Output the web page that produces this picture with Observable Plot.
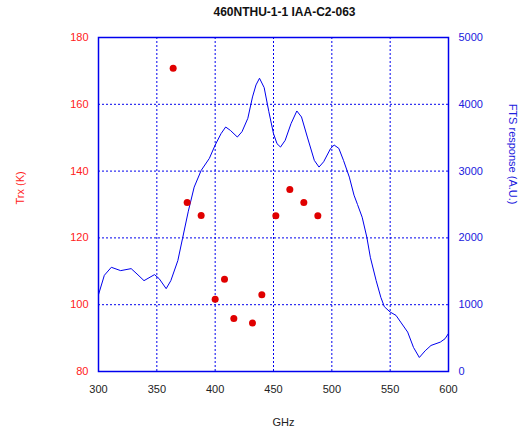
<!DOCTYPE html>
<html>
<head>
<meta charset="utf-8">
<script src="https://cdn.jsdelivr.net/npm/d3@7"></script>
<script src="https://cdn.jsdelivr.net/npm/@observablehq/plot@0.6"></script>
<style>
  html, body { margin: 0; padding: 0; background: #fff; }
  #chart { width: 524px; height: 433px; }
</style>
</head>
<body>
<div id="chart"></div>
<script>
// FTS response curve (GHz, A.U.)
const ftsGhz = [300,305,311,319,328,333,339,348,352,358,362,368,372,377,382,388,395,400,405,409,413,419,423,428,432,435,438,442,446,450,453,456,460,465,470,474,479,485,489,493,499,502,506,510,515,519,522,526,530,533,538,542,545,550,555,559,565,570,575,580,585,593,597,600];
const ftsVal = [1150,1440,1560,1510,1540,1460,1360,1450,1390,1240,1360,1660,1990,2400,2760,3010,3190,3390,3560,3660,3610,3510,3590,3790,4110,4290,4390,4250,3890,3560,3410,3360,3460,3710,3900,3810,3510,3160,3060,3140,3340,3390,3340,3160,2910,2640,2500,2310,2010,1710,1360,1110,970,890,840,740,590,360,210,310,390,440,490,570];
// Trx points (GHz, K)
const trxGhz = [364,376,388,400,408,416,432,440,452,464,476,488];
const trxVal = [170.8,130.6,126.7,101.6,107.6,95.9,94.5,103,126.6,134.5,130.6,126.6];
// ticks
const xTicks = [300,350,400,450,500,550,600];
const leftTicks = [80,100,120,140,160,180];
const rightTicks = [0,1000,2000,3000,4000,5000];
const title = "460NTHU-1-1 IAA-C2-063";

const toLeft = v => 80 + v / 50;
const fts = ftsGhz.map((g, i) => ({g, v: ftsVal[i]}));
const trx = trxGhz.map((g, i) => ({g, v: trxVal[i]}));

const blue = "#0000ee";
const chart = Plot.plot({
  width: 524, height: 433,
  marginLeft: 98, marginRight: 76, marginTop: 37, marginBottom: 62,
  x: {domain: [300, 600]},
  y: {domain: [80, 180]},
  style: {fontFamily: "'Liberation Sans', Arial, sans-serif", fontSize: "11px", background: "#fff"},
  marks: [
    Plot.gridX(xTicks.slice(1, -1), {stroke: blue, strokeOpacity: 1, strokeDasharray: "2,2", strokeWidth: 1}),
    Plot.gridY(leftTicks.slice(1, -1), {stroke: blue, strokeOpacity: 1, strokeDasharray: "2,2", strokeWidth: 1}),
    Plot.line(fts, {x: "g", y: d => toLeft(d.v), stroke: blue, strokeWidth: 1}),
    Plot.dot(trx, {x: "g", y: "v", r: 3.5, fill: "#e00000", stroke: null}),
    Plot.frame({stroke: blue, strokeWidth: 1.5}),
    Plot.axisX(xTicks, {tickSize: 0, tickPadding: 14, color: "#222", label: null}),
    Plot.axisY(leftTicks, {anchor: "left", tickSize: 0, tickPadding: 10, color: "#ff2020", label: null}),
    Plot.axisY(rightTicks.map(toLeft), {anchor: "right", tickSize: 0, tickPadding: 10, color: "#2020dd", label: null,
      tickFormat: d => String(Math.round((d - 80) * 50))}),
    Plot.text([title], {frameAnchor: "top", lineAnchor: "middle", dy: -25.5, dx: 11, fontWeight: "bold", fontSize: 12, fill: "#111"}),
    Plot.text(["GHz"], {frameAnchor: "bottom", lineAnchor: "middle", dy: 51, dx: 10, fill: "#222", fontSize: 11}),
    Plot.text(["Trx (K)"], {frameAnchor: "left", lineAnchor: "middle", dx: -78, rotate: -90, fill: "#ff2020", fontSize: 11}),
    Plot.text(["FTS response (A.U.)"], {frameAnchor: "right", lineAnchor: "middle", dx: 64, rotate: 90, fill: "#2020dd", fontSize: 11})
  ]
});
document.getElementById("chart").appendChild(chart);
</script>
</body>
</html>
